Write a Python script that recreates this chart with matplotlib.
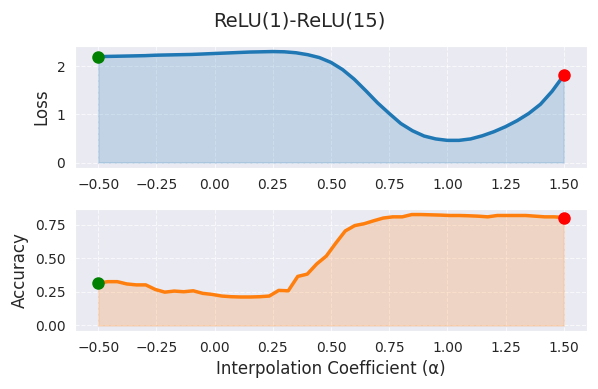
import numpy as np
import matplotlib
matplotlib.use("Agg")
import matplotlib.pyplot as plt
import seaborn as sns

sns.set_style("darkgrid")

alpha_loss = np.linspace(-0.5, 1.5, 41)
loss = [2.20, 2.205, 2.21, 2.215, 2.22, 2.23, 2.235, 2.24, 2.245, 2.255,
        2.265, 2.275, 2.285, 2.295, 2.30, 2.305, 2.30, 2.28, 2.24, 2.18,
        2.08, 1.93, 1.73, 1.49, 1.24, 1.02, 0.81, 0.66, 0.55, 0.49,
        0.46, 0.46, 0.49, 0.555, 0.64, 0.745, 0.87, 1.02, 1.21, 1.48,
        1.81]

# accuracy has 50 points
alpha_acc = np.linspace(-0.5, 1.5, 50)
acc = [0.315, 0.326, 0.326, 0.309, 0.302, 0.302, 0.268, 0.248, 0.256, 0.251,
       0.258, 0.239, 0.231, 0.219, 0.214, 0.212, 0.212, 0.214, 0.219, 0.261,
       0.258, 0.365, 0.382, 0.458, 0.516, 0.612, 0.703, 0.743, 0.757, 0.779,
       0.799, 0.808, 0.808, 0.825, 0.825, 0.823, 0.821, 0.818, 0.818, 0.816,
       0.813, 0.808, 0.818, 0.818, 0.818, 0.818, 0.813, 0.808, 0.808, 0.803]

fig = plt.figure(figsize=(5.98, 3.89), dpi=100)
ax1 = fig.add_axes([0.1254, 0.568, 0.8562, 0.3137])
ax2 = fig.add_axes([0.1254, 0.149, 0.8562, 0.3137])

ax1.plot(alpha_loss, loss, color='C0', lw=2.5)
ax1.fill_between(alpha_loss, loss, color='C0', alpha=0.2)
ax1.plot(alpha_loss[0], loss[0], 'o', color='green', ms=8, zorder=5)
ax1.plot(alpha_loss[-1], loss[-1], 'o', color='red', ms=8, zorder=5)
ax1.set_ylabel('Loss', fontsize=12)
ax1.grid(True, linestyle='--', alpha=0.7)

ax2.plot(alpha_acc, acc, color='C1', lw=2.5)
ax2.fill_between(alpha_acc, acc, color='C1', alpha=0.2)
ax2.plot(alpha_acc[0], acc[0], 'o', color='green', ms=8, zorder=5)
ax2.plot(alpha_acc[-1], acc[-1], 'o', color='red', ms=8, zorder=5)
ax2.set_ylabel('Accuracy', fontsize=12)
ax2.set_xlabel('Interpolation Coefficient (α)', fontsize=12)
ax2.grid(True, linestyle='--', alpha=0.7)

fig.suptitle('ReLU(1)-ReLU(15)', fontsize=14, y=0.97)

fig.savefig('out.png', dpi=100)
